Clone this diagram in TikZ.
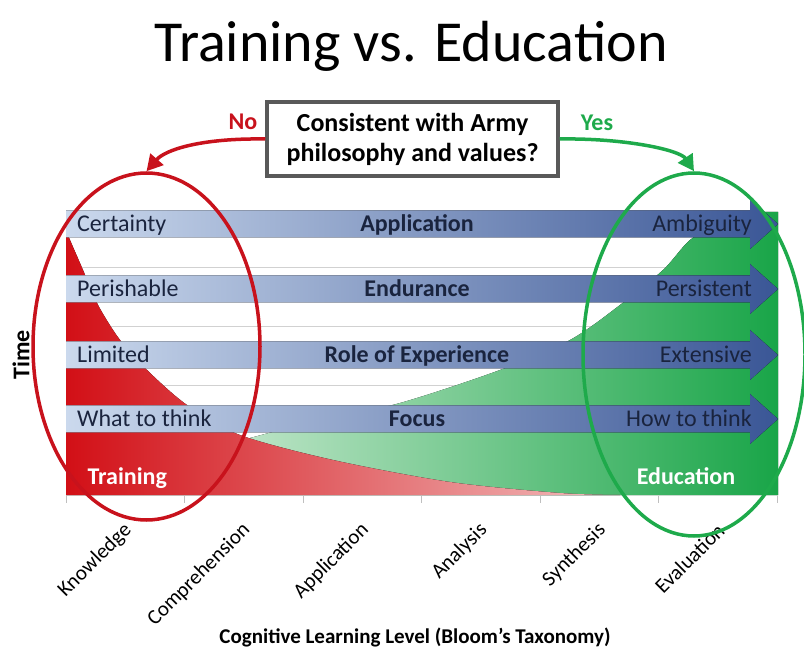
\documentclass[tikz,border=0pt]{standalone}
\usepackage{fontspec}
\setmainfont{Carlito}
\usepackage{tikz}
\usetikzlibrary{shapes.geometric,arrows.meta,positioning}

\definecolor{trainred}{RGB}{200,18,28}
\definecolor{edugreen}{RGB}{30,170,75}
\definecolor{barlight}{RGB}{203,217,237}
\definecolor{barmid}{RGB}{160,182,216}
\definecolor{bardark}{RGB}{58,86,150}
\definecolor{bartext}{RGB}{26,36,62}
\newcommand{\pxf}[1]{\fontsize{#1}{#1}\selectfont}

\begin{document}
\begin{tikzpicture}[x=1pt,y=-1pt,
  bartxt/.style={text=bartext,font=\pxf{24},inner sep=0pt},
  lvltxt/.style={rotate=45,anchor=east,font=\pxf{21},inner sep=0pt},
  oval/.style={ellipse,line width=3.5pt,inner sep=0pt}]

\useasboundingbox (0,0) rectangle (804,652);

\node (title) at (411,46) {\pxf{58}Training vs. Education};

\foreach \y in {268,327,386,445}
  \draw [black!18, line width=1pt] (66,\y) -- (778,\y);

\fill [left color={rgb,255:red,242;green,249;blue,240}, middle color={rgb,255:red,160;green,212;blue,155}, right color={rgb,255:red,25;green,165;blue,72}]
  (66,495) -- plot [smooth] coordinates {(66,489) (120,476) (200,452) (250,438) (320,420) (400,403) (500,370) (570,340) (620,305) (663,270) (690,240) (722,221) (750,212)}
  -- (778,212) -- (778,495) -- cycle;

\fill [left color={rgb,255:red,210;green,15;blue,22}, middle color={rgb,255:red,218;green,72;blue,78}, right color={rgb,255:red,242;green,190;blue,190}]
  (66,495) -- plot [smooth] coordinates {(66,230) (70,240) (83,270) (98,305) (120,340) (147,370) (187,405) (240,435) (333,460) (450,482) (560,493) (620,495)}
  -- cycle;

\foreach \y/\lft/\ctr/\rgt [count=\i] in {224/Certainty/Application/Ambiguity, 289/Perishable/Endurance/Persistent, 355/Limited/Role of Experience/Extensive, 419/What to think/Focus/How to think} {
  \fill [left color=barlight, middle color=barmid, right color=bardark]
    (66,\y-13.5) -- (750,\y-13.5) -- (750,\y-25) -- (778,\y) -- (750,\y+25) -- (750,\y+13.5) -- (66,\y+13.5) -- cycle;
  \node (lft\i) [bartxt, anchor=base west] at (77,\y+7.5) {\lft};
  \node (ctr\i) [bartxt, anchor=base, font=\pxf{24}\bfseries] at (417,\y+7.5) {\ctr};
  \node (rgt\i) [bartxt, anchor=base east] at (752,\y+7.5) {\rgt};
}

\node (trainlab) [anchor=base west, text=white, font=\pxf{24}\bfseries] at (84,485) {Training};
\node (edulab) [anchor=base, text=white, font=\pxf{24}\bfseries] at (686,485) {Education};

\foreach \x in {0,...,6}
  \draw [black!25, line width=1pt] (66+118.5*\x,496) -- (66+118.5*\x,503);

\foreach \lab [count=\i] in {Knowledge,Comprehension,Application,Analysis,Synthesis,Evaluation}
  \node (lvl\i) [lvltxt] at (66+118.5*\i-56,527) {\lab};

\node (timelab) [rotate=90, font=\pxf{24}\bfseries] at (21,355) {Time};
\node (axtitle) [font=\pxf{21}\bfseries] at (415,637) {Cognitive Learning Level (Bloom’s Taxonomy)};

\node (q) [draw=black!65, line width=3.5pt, fill=white, minimum width=291, minimum height=74, align=center, font=\fontsize{26}{30}\selectfont\bfseries] at (412.5,139) {Consistent with Army\\philosophy and values?};

\node (trainoval) [oval, draw=trainred, minimum width=227, minimum height=347] at (146.5,346.5) {};
\node (eduoval) [oval, draw=edugreen, minimum width=222, minimum height=363] at (694,354.5) {};

\node (no) [text=trainred, font=\pxf{24}\bfseries] at (243,122) {No};
\node (yes) [text=edugreen, font=\pxf{24}\bfseries] at (597,123) {Yes};

\draw [trainred, line width=3.5pt, -{Triangle[length=16pt,width=17pt]}] (q.west) .. controls (200,138) and (165,150) .. (trainoval.north);
\draw [edugreen, line width=3.5pt, -{Triangle[length=16pt,width=17pt]}] (q.east) .. controls (625,138) and (680,150) .. (eduoval.north);
\end{tikzpicture}
\end{document}
